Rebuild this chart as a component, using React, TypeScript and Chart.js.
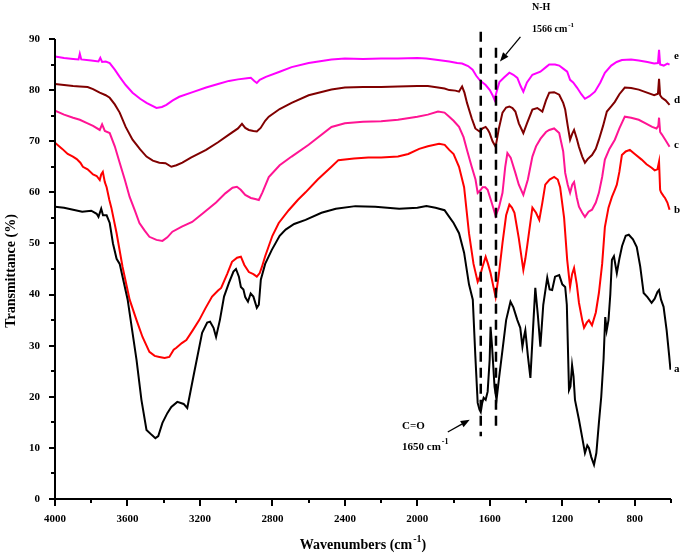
import React, { useEffect, useRef } from 'react';
import { Chart, registerables } from 'chart.js';

Chart.register(...registerables);

// ---------- data (wavenumber cm-1, transmittance %) ----------
const aWn = [4000, 3950, 3900, 3850, 3800, 3770, 3760, 3745, 3735, 3715, 3698, 3680, 3660, 3643, 3599, 3550, 3523, 3495, 3465, 3446, 3430, 3407, 3380, 3358, 3325, 3290, 3270, 3232, 3188, 3160, 3144, 3125, 3111, 3090, 3067, 3040, 3015, 3001, 2985, 2974, 2960, 2950, 2935, 2920, 2905, 2886, 2875, 2864, 2840, 2804, 2760, 2727, 2680, 2617, 2529, 2450, 2342, 2233, 2100, 2000, 1950, 1900, 1850, 1824, 1800, 1770, 1742, 1715, 1694, 1680, 1667, 1657, 1650, 1642, 1634, 1623, 1612, 1601, 1596, 1588, 1574, 1563, 1548, 1530, 1510, 1486, 1470, 1448, 1432, 1420, 1410, 1404, 1390, 1376, 1362, 1349, 1335, 1321, 1305, 1283, 1270, 1256, 1240, 1217, 1200, 1184, 1175, 1163, 1155, 1146, 1138, 1130, 1108, 1090, 1075, 1062, 1053, 1040, 1025, 1012, 998, 985, 972, 963, 955, 945, 935, 926, 915, 899, 885, 870, 850, 833, 810, 789, 770, 751, 730, 707, 690, 675, 666, 655, 641, 624, 610, 603];
const aT = [57.2, 57.0, 56.6, 56.2, 56.4, 55.8, 55.2, 56.8, 55.5, 55.5, 54.0, 50, 47, 46, 39, 27.2, 19.4, 13.5, 12.5, 11.9, 12.3, 14.9, 16.8, 18, 19, 18.6, 17.8, 24.7, 32.5, 34.5, 34.7, 33.5, 31.7, 35, 39.6, 42.3, 44.5, 45, 43.5, 41.5, 41, 39.5, 38.6, 40.2, 39.6, 37.4, 38, 42.9, 46, 48.7, 51.5, 52.7, 53.8, 54.6, 56, 56.8, 57.3, 57.2, 56.8, 57.0, 57.3, 57.0, 56.5, 55.2, 54, 52, 48.2, 42, 39, 28, 18.8, 17.5, 17.0, 18.8, 19.8, 19.4, 21, 27.2, 33.7, 30, 22, 19.4, 24, 29.2, 35, 38.6, 37.5, 35, 33.5, 29.8, 32, 33, 28, 23.7, 33, 41.3, 36, 29.8, 38, 43.3, 41, 40.9, 43.5, 43.8, 42, 41.5, 38, 21.3, 22, 26.2, 24, 19.4, 15.5, 12, 9, 10.5, 10, 8.2, 6.7, 9, 14.9, 20, 27.5, 35.6, 33, 35, 40, 46.8, 47.5, 44.2, 47, 49.5, 51.5, 51.7, 50.8, 49.3, 45.5, 40.3, 39.5, 38.4, 39.2, 40.5, 40.9, 39, 37.6, 33, 28, 25.3];

const bWn = [4000, 3960, 3930, 3901, 3880, 3860, 3846, 3820, 3790, 3770, 3753, 3745, 3736, 3725, 3715, 3700, 3689, 3660, 3627, 3588, 3550, 3517, 3479, 3450, 3424, 3395, 3369, 3345, 3330, 3300, 3275, 3240, 3204, 3170, 3133, 3100, 3083, 3050, 3023, 2995, 2974, 2955, 2930, 2905, 2886, 2870, 2858, 2840, 2820, 2800, 2765, 2710, 2660, 2617, 2550, 2474, 2436, 2350, 2271, 2200, 2107, 2050, 1990, 1942, 1880, 1849, 1824, 1800, 1770, 1742, 1715, 1690, 1667, 1655, 1640, 1623, 1610, 1596, 1580, 1568, 1550, 1530, 1510, 1492, 1478, 1464, 1440, 1415, 1404, 1393, 1365, 1345, 1327, 1310, 1294, 1270, 1245, 1225, 1212, 1190, 1173, 1157, 1146, 1135, 1120, 1108, 1090, 1080, 1065, 1053, 1036, 1015, 998, 980, 965, 945, 926, 910, 899, 885, 871, 850, 827, 800, 762, 735, 707, 690, 675, 666, 660, 655, 640, 633, 620, 608];
const bT = [69.7, 68.5, 67.5, 67, 66.5, 65.8, 65, 64.5, 63.5, 63.2, 62.4, 63.5, 64, 62, 61, 58.5, 57, 52, 45.4, 39, 35, 31.7, 28.8, 28, 27.8, 27.6, 27.8, 29.2, 29.6, 30.5, 31.1, 33, 35, 37.3, 39.6, 40.8, 41.3, 44, 46.4, 47.2, 47.4, 45.8, 44.4, 44, 43.5, 44.2, 45.4, 47.5, 49.5, 51.5, 54, 56.5, 58.5, 60, 62.5, 65, 66.3, 66.6, 66.8, 66.8, 67, 67.5, 68.5, 69, 69.5, 69.3, 68.3, 67.5, 65, 61, 52, 46, 42.5, 43.5, 45.5, 47.4, 46, 44.2, 41.5, 39.5, 44, 50.1, 55.5, 57.6, 57, 56, 51, 44.8, 47, 49.7, 57, 56, 54.6, 58, 61.5, 62.5, 63, 62.5, 61, 55, 46.8, 41.5, 44, 45.2, 42, 38.4, 35, 33.5, 34.5, 35, 34, 36.5, 40.3, 46, 53.2, 57, 59.1, 60.5, 61.5, 64, 67.3, 68, 68.3, 67.5, 66.4, 65.5, 64.8, 64.3, 64.5, 66, 60.5, 60, 59.2, 58.9, 58, 56.6];

const cWn = [4000, 3950, 3900, 3863, 3820, 3790, 3753, 3740, 3725, 3698, 3670, 3643, 3615, 3588, 3560, 3534, 3505, 3479, 3440, 3407, 3380, 3352, 3300, 3243, 3180, 3111, 3060, 3020, 2996, 2975, 2950, 2919, 2895, 2875, 2855, 2820, 2760, 2694, 2600, 2474, 2400, 2300, 2200, 2107, 2000, 1942, 1886, 1850, 1824, 1800, 1770, 1745, 1726, 1700, 1679, 1667, 1650, 1640, 1625, 1612, 1590, 1568, 1550, 1530, 1515, 1503, 1485, 1459, 1440, 1415, 1390, 1365, 1345, 1320, 1290, 1272, 1245, 1217, 1195, 1184, 1170, 1157, 1145, 1135, 1120, 1108, 1090, 1075, 1055, 1036, 1015, 998, 980, 965, 940, 910, 885, 855, 820, 778, 740, 704, 680, 670, 666, 660, 650, 630, 608];
const cT = [76, 75.2, 74.6, 74.2, 73.5, 73, 72.2, 73.3, 72, 71.6, 69, 65.8, 62.5, 59.1, 56.5, 54, 52.5, 51.3, 50.7, 50.5, 51.2, 52.3, 53.3, 54.2, 56, 58, 59.8, 60.9, 61.1, 60.5, 59.5, 58.9, 58.7, 58.5, 60, 63, 65.3, 67, 69.3, 72.8, 73.5, 73.8, 73.9, 74.2, 74.8, 75.2, 75.8, 75.6, 74.8, 74, 72.8, 70.8, 68.3, 65, 62.5, 59.9, 60.5, 61, 61, 60.5, 58, 55.4, 57, 59.9, 65, 67.7, 66.8, 63.8, 61.5, 59.5, 62.5, 67, 69, 70.5, 71.8, 72.2, 72.5, 71.6, 68, 63.8, 61.5, 59.9, 61.5, 62, 59, 57.2, 56, 55.2, 56.2, 56.6, 58, 59.9, 63, 66.4, 68.5, 70.3, 72.5, 74.8, 74.6, 74.2, 73.5, 72.8, 72.5, 73, 74.6, 71.8, 71.3, 70.2, 68.9];

const dWn = [4000, 3950, 3900, 3863, 3820, 3790, 3753, 3720, 3698, 3670, 3643, 3610, 3572, 3530, 3495, 3460, 3424, 3390, 3358, 3330, 3297, 3250, 3166, 3100, 3040, 2990, 2968, 2950, 2930, 2905, 2886, 2865, 2840, 2820, 2760, 2694, 2600, 2474, 2400, 2300, 2200, 2107, 2000, 1942, 1886, 1850, 1824, 1790, 1770, 1760, 1753, 1740, 1726, 1700, 1680, 1657, 1640, 1623, 1610, 1601, 1585, 1568, 1550, 1530, 1510, 1492, 1475, 1459, 1440, 1415, 1395, 1365, 1338, 1310, 1290, 1272, 1245, 1217, 1195, 1184, 1170, 1157, 1145, 1135, 1120, 1108, 1090, 1075, 1060, 1036, 1015, 998, 975, 954, 930, 910, 885, 855, 820, 778, 740, 693, 672, 666, 660, 650, 630, 608];
const dT = [81.2, 81, 80.8, 80.7, 80.6, 80.2, 79.5, 79, 78.5, 77.2, 75.6, 72.8, 70.3, 68.4, 67, 66.2, 65.8, 65.7, 65, 65.3, 65.8, 66.8, 68.3, 69.8, 71.3, 72.5, 73.4, 72.6, 72.2, 72, 71.9, 72.6, 74, 74.8, 76.3, 77.5, 79, 80.1, 80.5, 80.6, 80.6, 80.7, 80.8, 80.8, 80.5, 80.3, 80, 79.9, 79.7, 80.3, 80.7, 79.5, 77.5, 74.5, 72.5, 71.9, 72.5, 72.8, 72.2, 71.6, 70, 68.9, 72.5, 75.6, 76.6, 76.8, 76.5, 75.8, 73.5, 71.6, 73.5, 76.2, 76.5, 75.8, 78, 79.5, 79.6, 79.1, 77.5, 76.2, 73, 70.3, 71.5, 72.2, 70.5, 68.9, 67, 65.8, 66.5, 67.3, 68.5, 70.3, 73, 75.8, 76.8, 77.7, 79.2, 80.5, 80.4, 80.1, 79.6, 79, 79.3, 82.2, 79, 78.5, 78, 77.1];

const eWn = [4000, 3950, 3900, 3870, 3863, 3855, 3800, 3760, 3750, 3740, 3720, 3698, 3670, 3643, 3610, 3572, 3530, 3495, 3440, 3410, 3385, 3350, 3314, 3240, 3166, 3100, 3040, 2990, 2940, 2919, 2900, 2886, 2870, 2836, 2760, 2694, 2600, 2474, 2400, 2300, 2200, 2107, 2000, 1950, 1886, 1824, 1780, 1753, 1720, 1695, 1675, 1657, 1640, 1623, 1600, 1585, 1574, 1560, 1547, 1520, 1492, 1470, 1448, 1430, 1415, 1395, 1365, 1321, 1290, 1272, 1240, 1217, 1195, 1173, 1157, 1140, 1119, 1095, 1075, 1050, 1020, 990, 965, 930, 900, 871, 820, 778, 730, 693, 672, 666, 660, 640, 620, 608];
const eT = [86.6, 86.3, 86.1, 86, 87.1, 86, 85.8, 85.6, 86.3, 85.5, 85.6, 85.3, 84, 82.6, 81, 79.5, 78.3, 77.5, 76.5, 76.7, 77.1, 78, 78.7, 79.6, 80.5, 81.2, 81.8, 82.1, 82.3, 82.4, 81.8, 81.4, 82, 82.6, 83.6, 84.5, 85.3, 86, 86.2, 86.1, 86.2, 86.2, 86.3, 86.2, 85.9, 85.6, 85.3, 85.2, 84.7, 84, 82.8, 82, 81.5, 81, 80, 79, 78.1, 80, 81.6, 82.5, 83.4, 83, 82.4, 80.8, 79.7, 81.5, 83, 83.6, 84.5, 85, 85, 84.8, 84.2, 83.6, 82, 81.5, 80.5, 79.2, 78.3, 78.8, 79.7, 81.5, 83.4, 84.8, 85.5, 85.9, 86, 85.8, 85.5, 85.2, 85.3, 87.9, 85, 84.8, 85.2, 85];

const seriesNames = ['a', 'b', 'c', 'd', 'e'];
const seriesColors = ['#000000', '#ff0000', '#ff1493', '#800000', '#ff00ff'];
const seriesWn = [aWn, bWn, cWn, dWn, eWn];
const seriesT = [aT, bT, cT, dT, eT];
// label heights (transmittance) for curve letters at the right end
const seriesLabelT = [25.4, 56.5, 69.3, 78.1, 86.7];

// annotation: dashed marker lines [wavenumber, top T, bottom T]
const markerLines = [
  [1650, 91.4, 12.3],
  [1566, 88.3, 13.3],
];

const FONT = '"Liberation Serif", "Times New Roman", serif';

function drawSupText(ctx: CanvasRenderingContext2D, x: number, y: number, base: string, sup: string, tail: string, size: number, align: 'left' | 'center') {
  const supSize = Math.round(size * 0.72);
  ctx.font = `bold ${size}px ${FONT}`;
  const wBase = ctx.measureText(base).width;
  const wTail = tail ? ctx.measureText(tail).width : 0;
  ctx.font = `bold ${supSize}px ${FONT}`;
  const wSup = ctx.measureText(sup).width;
  const total = wBase + wSup + wTail + 1;
  let sx = align === 'center' ? x - total / 2 : x;
  ctx.textAlign = 'left';
  ctx.textBaseline = 'middle';
  ctx.font = `bold ${size}px ${FONT}`;
  ctx.fillText(base, sx, y);
  sx += wBase + 1;
  ctx.font = `bold ${supSize}px ${FONT}`;
  ctx.fillText(sup, sx, y - size * 0.42);
  sx += wSup;
  if (tail) {
    ctx.font = `bold ${size}px ${FONT}`;
    ctx.fillText(tail, sx, y);
  }
}

function arrow(ctx: CanvasRenderingContext2D, x1: number, y1: number, x2: number, y2: number) {
  const ang = Math.atan2(y2 - y1, x2 - x1);
  const hl = 9, hw = 3.5;
  const bx = x2 - hl * Math.cos(ang), by = y2 - hl * Math.sin(ang);
  ctx.beginPath();
  ctx.moveTo(x1, y1);
  ctx.lineTo(bx, by);
  ctx.stroke();
  ctx.beginPath();
  ctx.moveTo(x2, y2);
  ctx.lineTo(bx + hw * Math.sin(ang), by - hw * Math.cos(ang));
  ctx.lineTo(bx - hw * Math.sin(ang), by + hw * Math.cos(ang));
  ctx.closePath();
  ctx.fill();
}

const overlayPlugin = {
  id: 'overlay',
  afterDraw(chart: any) {
    const ctx: CanvasRenderingContext2D = chart.ctx;
    const xs = chart.scales.x;
    const ys = chart.scales.y;
    const { left, right, top, bottom } = chart.chartArea;
    ctx.save();
    ctx.strokeStyle = '#000';
    ctx.fillStyle = '#000';
    ctx.lineWidth = 2;
    ctx.lineCap = 'butt';
    // axes lines
    ctx.beginPath();
    ctx.moveTo(left, top);
    ctx.lineTo(left, bottom);
    ctx.lineTo(right, bottom);
    ctx.stroke();
    // y ticks
    for (let v = 0; v <= 90; v += 5) {
      const py = Math.round(ys.getPixelForValue(v));
      const len = v % 10 === 0 ? 6 : 4;
      ctx.beginPath();
      ctx.moveTo(left - len, py);
      ctx.lineTo(left, py);
      ctx.stroke();
    }
    // x ticks
    for (let v = 600; v <= 4000; v += 200) {
      const px = Math.round(xs.getPixelForValue(v));
      const len = v % 400 === 0 && v !== 600 ? 7 : 4;
      ctx.beginPath();
      ctx.moveTo(px, bottom);
      ctx.lineTo(px, bottom + len);
      ctx.stroke();
    }
    // dashed marker lines
    ctx.lineWidth = 2.5;
    ctx.setLineDash([10, 6]);
    for (const [wn, t1, t2] of markerLines) {
      const px = xs.getPixelForValue(wn);
      ctx.beginPath();
      ctx.moveTo(px, ys.getPixelForValue(t1));
      ctx.lineTo(px, ys.getPixelForValue(t2));
      ctx.stroke();
    }
    ctx.setLineDash([]);
    // arrows
    ctx.lineWidth = 1.3;
    arrow(ctx, xs.getPixelForValue(1431), ys.getPixelForValue(90.4), xs.getPixelForValue(1544), ys.getPixelForValue(85.6));
    arrow(ctx, xs.getPixelForValue(1832), ys.getPixelForValue(13.1), xs.getPixelForValue(1711), ys.getPixelForValue(15.5));
    // annotation texts
    ctx.textBaseline = 'middle';
    ctx.textAlign = 'left';
    ctx.font = `bold 10px ${FONT}`;
    ctx.fillText('N-H', 532, 7);
    drawSupText(ctx, 532, 29, '1566 cm', '-1', '', 10, 'left');
    ctx.font = `bold 11px ${FONT}`;
    ctx.fillText('C=O', 402, 426);
    drawSupText(ctx, 402, 447, '1650 cm', '-1', '', 11, 'left');
    // series letters
    ctx.font = `bold 11px ${FONT}`;
    seriesNames.forEach((n, i) => {
      ctx.fillText(n, right + 3, ys.getPixelForValue(seriesLabelT[i]));
    });
    // axis titles
    drawSupText(ctx, (left + right) / 2, 545, 'Wavenumbers (cm', '-1', ')', 14, 'center');
    ctx.save();
    ctx.translate(11, (top + bottom) / 2 + 2);
    ctx.rotate(-Math.PI / 2);
    ctx.textAlign = 'center';
    ctx.textBaseline = 'middle';
    ctx.font = `bold 14px ${FONT}`;
    ctx.fillText('Transmittance (%)', 0, 0);
    ctx.restore();
    ctx.restore();
  },
};

export default function App() {
  const ref = useRef<HTMLCanvasElement | null>(null);
  useEffect(() => {
    document.body.style.margin = '0';
    const canvas = ref.current;
    if (!canvas) return;
    const datasets = seriesNames.map((n, i) => ({
      label: n,
      data: seriesWn[i].map((w, k) => ({ x: w, y: seriesT[i][k] })),
      borderColor: seriesColors[i],
      backgroundColor: seriesColors[i],
      borderWidth: 2,
      pointRadius: 0,
      tension: 0,
      fill: false,
    }));
    const chart = new Chart(canvas, {
      type: 'line',
      data: { datasets },
      plugins: [overlayPlugin],
      options: {
        responsive: false,
        animation: false,
        devicePixelRatio: 1,
        layout: { padding: { left: 0, top: 39, right: 10.5, bottom: 0 } },
        plugins: { legend: { display: false }, tooltip: { enabled: false } },
        scales: {
          x: {
            type: 'linear',
            reverse: true,
            min: 600,
            max: 4000,
            grid: { display: false, drawTicks: false },
            border: { display: false },
            ticks: {
              stepSize: 200,
              autoSkip: false,
              maxRotation: 0,
              padding: 14,
              color: '#000',
              font: { family: FONT, size: 11, weight: 'bold' },
              callback: (v: any) => (v % 400 === 0 && v !== 600 ? String(v) : ''),
            },
            afterFit: (s: any) => { s.height = 55; },
          },
          y: {
            min: 0,
            max: 90,
            grid: { display: false, drawTicks: false },
            border: { display: false },
            ticks: {
              stepSize: 5,
              autoSkip: false,
              padding: 15,
              color: '#000',
              font: { family: FONT, size: 11, weight: 'bold' },
              callback: (v: any) => (v % 10 === 0 ? String(v) : ''),
            },
            afterFit: (s: any) => { s.width = 55; },
          },
        },
      },
    } as any);
    return () => chart.destroy();
  }, []);
  return (
    <div style={{ position: 'relative', width: 685, height: 554, background: '#fff' }}>
      <canvas ref={ref} width={685} height={554} />
    </div>
  );
}
